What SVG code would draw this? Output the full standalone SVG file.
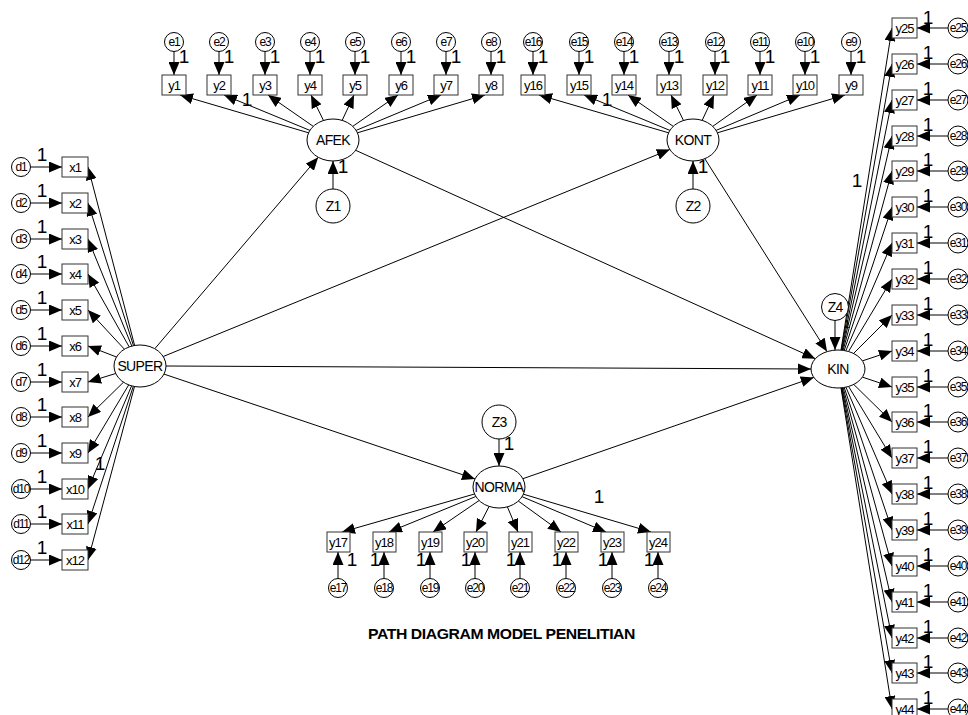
<svg xmlns="http://www.w3.org/2000/svg" width="968" height="715" viewBox="0 0 968 715">
<defs>
<marker id="ah" markerUnits="userSpaceOnUse" markerWidth="13" markerHeight="11" refX="13" refY="5.5" orient="auto">
<path d="M0,0 L13,5.5 L0,11 z" fill="#000"/>
</marker>
<style>
.edge{stroke:#000;stroke-width:1;fill:none;marker-end:url(#ah)}
.box{fill:#fff;stroke:#333;stroke-width:1}
.lat{fill:#fff;stroke:#000;stroke-width:1}
.err{fill:#fff;stroke:#000;stroke-width:1}
.t{font-family:"Liberation Sans",Arial,sans-serif;font-size:13px;text-anchor:middle;letter-spacing:-1px;fill:#000}
.te{font-family:"Liberation Sans",Arial,sans-serif;font-size:12px;text-anchor:middle;letter-spacing:-1.2px;fill:#000}
.tl{font-family:"Liberation Sans",Arial,sans-serif;font-size:14px;text-anchor:middle;letter-spacing:-0.6px;fill:#000}
.tz{font-family:"Liberation Sans",Arial,sans-serif;font-size:14px;text-anchor:middle;letter-spacing:-0.8px;fill:#000}
.one{font-family:"Liberation Sans",Arial,sans-serif;font-size:19px;text-anchor:middle;fill:#000}
.cap{font-family:"Liberation Sans",Arial,sans-serif;font-size:15px;font-weight:bold;letter-spacing:-0.4px;fill:#000}
</style>
</defs>
<rect width="968" height="715" fill="#fff"/>

<!-- connectors -->
<g id="connectors">
<!-- structural paths -->
<line class="edge" x1="154.8" y1="348.7" x2="318.2" y2="157.3"/>
<line class="edge" x1="163.2" y1="356.5" x2="669.8" y2="149.5"/>
<line class="edge" x1="166" y1="366" x2="811" y2="369"/>
<line class="edge" x1="164" y1="374.1" x2="475" y2="478.9"/>
<line class="edge" x1="355.7" y1="150.3" x2="815.3" y2="358.7"/>
<line class="edge" x1="704.8" y1="158.7" x2="827" y2="351.6"/>
<line class="edge" x1="522.9" y1="478.7" x2="813.8" y2="377.4"/>
<!-- disturbances -->
<line class="edge" x1="333" y1="189" x2="333" y2="161"/>
<line class="edge" x1="693" y1="189" x2="693" y2="161"/>
<line class="edge" x1="499" y1="439" x2="499" y2="466"/>
<line class="edge" x1="835" y1="320.5" x2="835" y2="350"/>
<!-- AFEK loadings -->
<line class="edge" x1="308.6" y1="132.8" x2="180" y2="95"/>
<line class="edge" x1="309.9" y1="130.4" x2="224" y2="95"/>
<line class="edge" x1="313.2" y1="126.3" x2="268" y2="95"/>
<line class="edge" x1="323.5" y1="120.5" x2="311" y2="95"/>
<line class="edge" x1="342.2" y1="120.3" x2="354" y2="95"/>
<line class="edge" x1="352.8" y1="126.3" x2="398" y2="95"/>
<line class="edge" x1="356.1" y1="130.4" x2="441" y2="95"/>
<line class="edge" x1="357.4" y1="132.8" x2="485" y2="95"/>
<!-- KONT loadings -->
<line class="edge" x1="668.6" y1="132.8" x2="539" y2="95"/>
<line class="edge" x1="669.9" y1="130.4" x2="584" y2="95"/>
<line class="edge" x1="673.2" y1="126.3" x2="628" y2="95"/>
<line class="edge" x1="683.5" y1="120.5" x2="671" y2="95"/>
<line class="edge" x1="702.2" y1="120.3" x2="714" y2="95"/>
<line class="edge" x1="712.8" y1="126.3" x2="757" y2="95"/>
<line class="edge" x1="716.1" y1="130.4" x2="800" y2="95"/>
<line class="edge" x1="717.4" y1="132.8" x2="845" y2="95"/>
<!-- SUPER loadings -->
<line class="edge" x1="134.6" y1="345.4" x2="88" y2="167"/>
<line class="edge" x1="133.5" y1="345.7" x2="88" y2="203"/>
<line class="edge" x1="131.8" y1="346.1" x2="88" y2="239"/>
<line class="edge" x1="129.2" y1="346.9" x2="88" y2="274"/>
<line class="edge" x1="124.4" y1="349.2" x2="88" y2="310"/>
<line class="edge" x1="116.5" y1="357" x2="88" y2="346"/>
<line class="edge" x1="115.7" y1="373.5" x2="88" y2="382"/>
<line class="edge" x1="123.5" y1="382.2" x2="88" y2="417"/>
<line class="edge" x1="128.7" y1="384.9" x2="88" y2="453"/>
<line class="edge" x1="131.6" y1="385.9" x2="88" y2="489"/>
<line class="edge" x1="133.3" y1="386.3" x2="88" y2="524"/>
<line class="edge" x1="134.5" y1="386.5" x2="88" y2="560"/>
<!-- NORMA loadings -->
<line class="edge" x1="474.5" y1="494" x2="342" y2="532"/>
<line class="edge" x1="475.8" y1="496.5" x2="389" y2="532"/>
<line class="edge" x1="479.1" y1="500.5" x2="433" y2="532"/>
<line class="edge" x1="489.1" y1="506.4" x2="476" y2="532"/>
<line class="edge" x1="507.4" y1="506.9" x2="518" y2="532"/>
<line class="edge" x1="518.3" y1="501" x2="561" y2="532"/>
<line class="edge" x1="522.1" y1="496.7" x2="606" y2="532"/>
<line class="edge" x1="523.4" y1="494.2" x2="651" y2="532"/>
<!-- KIN loadings -->
<line class="edge" x1="841" y1="350.1" x2="892" y2="28"/>
<line class="edge" x1="841.3" y1="350.1" x2="892" y2="64"/>
<line class="edge" x1="841.8" y1="350.2" x2="892" y2="100"/>
<line class="edge" x1="842.3" y1="350.2" x2="892" y2="136"/>
<line class="edge" x1="843.1" y1="350.3" x2="892" y2="171"/>
<line class="edge" x1="844.2" y1="350.5" x2="892" y2="207"/>
<line class="edge" x1="845.8" y1="350.8" x2="892" y2="243"/>
<line class="edge" x1="848.5" y1="351.5" x2="892" y2="279"/>
<line class="edge" x1="853.5" y1="353.5" x2="892" y2="315"/>
<line class="edge" x1="862.4" y1="360.9" x2="892" y2="351"/>
<line class="edge" x1="862.4" y1="377.1" x2="892" y2="387"/>
<line class="edge" x1="853.7" y1="384.4" x2="892" y2="422"/>
<line class="edge" x1="848.6" y1="386.5" x2="892" y2="458"/>
<line class="edge" x1="845.9" y1="387.2" x2="892" y2="494"/>
<line class="edge" x1="844.2" y1="387.5" x2="892" y2="530"/>
<line class="edge" x1="843.1" y1="387.7" x2="892" y2="566"/>
<line class="edge" x1="842.3" y1="387.8" x2="892" y2="602"/>
<line class="edge" x1="841.8" y1="387.8" x2="892" y2="638"/>
<line class="edge" x1="841.3" y1="387.9" x2="892" y2="673"/>
<line class="edge" x1="841" y1="387.9" x2="892" y2="709"/>
<!-- error terms, top rows -->
<line class="edge" x1="174" y1="51.5" x2="174" y2="75"/>
<line class="edge" x1="219" y1="51.5" x2="219" y2="75"/>
<line class="edge" x1="265" y1="51.5" x2="265" y2="75"/>
<line class="edge" x1="310" y1="51.5" x2="310" y2="75"/>
<line class="edge" x1="355" y1="51.5" x2="355" y2="75"/>
<line class="edge" x1="401" y1="51.5" x2="401" y2="75"/>
<line class="edge" x1="446" y1="51.5" x2="446" y2="75"/>
<line class="edge" x1="491" y1="51.5" x2="491" y2="75"/>
<line class="edge" x1="533" y1="51.5" x2="533" y2="75"/>
<line class="edge" x1="579" y1="51.5" x2="579" y2="75"/>
<line class="edge" x1="624" y1="51.5" x2="624" y2="75"/>
<line class="edge" x1="669" y1="51.5" x2="669" y2="75"/>
<line class="edge" x1="715" y1="51.5" x2="715" y2="75"/>
<line class="edge" x1="760" y1="51.5" x2="760" y2="75"/>
<line class="edge" x1="805" y1="51.5" x2="805" y2="75"/>
<line class="edge" x1="851" y1="51.5" x2="851" y2="75"/>
<!-- error terms, left column -->
<line class="edge" x1="30.5" y1="167" x2="62" y2="167"/>
<line class="edge" x1="30.5" y1="203" x2="62" y2="203"/>
<line class="edge" x1="30.5" y1="239" x2="62" y2="239"/>
<line class="edge" x1="30.5" y1="274" x2="62" y2="274"/>
<line class="edge" x1="30.5" y1="310" x2="62" y2="310"/>
<line class="edge" x1="30.5" y1="346" x2="62" y2="346"/>
<line class="edge" x1="30.5" y1="382" x2="62" y2="382"/>
<line class="edge" x1="30.5" y1="417" x2="62" y2="417"/>
<line class="edge" x1="30.5" y1="453" x2="62" y2="453"/>
<line class="edge" x1="30.5" y1="489" x2="62" y2="489"/>
<line class="edge" x1="30.5" y1="524" x2="62" y2="524"/>
<line class="edge" x1="30.5" y1="560" x2="62" y2="560"/>
<!-- error terms, bottom row -->
<line class="edge" x1="338" y1="578.5" x2="338" y2="552"/>
<line class="edge" x1="384" y1="578.5" x2="384" y2="552"/>
<line class="edge" x1="430" y1="578.5" x2="430" y2="552"/>
<line class="edge" x1="475" y1="578.5" x2="475" y2="552"/>
<line class="edge" x1="520" y1="578.5" x2="520" y2="552"/>
<line class="edge" x1="566" y1="578.5" x2="566" y2="552"/>
<line class="edge" x1="612" y1="578.5" x2="612" y2="552"/>
<line class="edge" x1="658" y1="578.5" x2="658" y2="552"/>
<!-- error terms, right column -->
<line class="edge" x1="948" y1="28" x2="917" y2="28"/>
<line class="edge" x1="948" y1="64" x2="917" y2="64"/>
<line class="edge" x1="948" y1="100" x2="917" y2="100"/>
<line class="edge" x1="948" y1="136" x2="917" y2="136"/>
<line class="edge" x1="948" y1="171" x2="917" y2="171"/>
<line class="edge" x1="948" y1="207" x2="917" y2="207"/>
<line class="edge" x1="948" y1="243" x2="917" y2="243"/>
<line class="edge" x1="948" y1="279" x2="917" y2="279"/>
<line class="edge" x1="948" y1="315" x2="917" y2="315"/>
<line class="edge" x1="948" y1="351" x2="917" y2="351"/>
<line class="edge" x1="948" y1="387" x2="917" y2="387"/>
<line class="edge" x1="948" y1="422" x2="917" y2="422"/>
<line class="edge" x1="948" y1="458" x2="917" y2="458"/>
<line class="edge" x1="948" y1="494" x2="917" y2="494"/>
<line class="edge" x1="948" y1="530" x2="917" y2="530"/>
<line class="edge" x1="948" y1="566" x2="917" y2="566"/>
<line class="edge" x1="948" y1="602" x2="917" y2="602"/>
<line class="edge" x1="948" y1="638" x2="917" y2="638"/>
<line class="edge" x1="948" y1="673" x2="917" y2="673"/>
<line class="edge" x1="948" y1="709" x2="917" y2="709"/>
</g>

<!-- regression weight labels -->
<g id="weights">
<text class="one" x="184" y="63">1</text><text class="one" x="229" y="63">1</text><text class="one" x="275" y="63">1</text><text class="one" x="320" y="63">1</text>
<text class="one" x="365" y="63">1</text><text class="one" x="411" y="63">1</text><text class="one" x="456" y="63">1</text><text class="one" x="501" y="63">1</text>
<text class="one" x="543" y="63">1</text><text class="one" x="589" y="63">1</text><text class="one" x="634" y="63">1</text><text class="one" x="679" y="63">1</text>
<text class="one" x="725" y="63">1</text><text class="one" x="770" y="63">1</text><text class="one" x="815" y="63">1</text><text class="one" x="861" y="63">1</text>
<text class="one" x="247" y="106">1</text><text class="one" x="607" y="106">1</text>
<text class="one" x="343" y="173">1</text><text class="one" x="703" y="173">1</text>
<text class="one" x="857" y="187">1</text>
<text class="one" x="847" y="328" style="font-size:11px">1</text>
<text class="one" x="509" y="450">1</text><text class="one" x="599" y="503">1</text>
<text class="one" x="100" y="470">1</text>
<text class="one" x="42" y="161">1</text><text class="one" x="42" y="197">1</text><text class="one" x="42" y="233">1</text><text class="one" x="42" y="268">1</text>
<text class="one" x="42" y="304">1</text><text class="one" x="42" y="340">1</text><text class="one" x="42" y="376">1</text><text class="one" x="42" y="411">1</text>
<text class="one" x="42" y="447">1</text><text class="one" x="42" y="483">1</text><text class="one" x="42" y="518">1</text><text class="one" x="42" y="554">1</text>
<text class="one" x="352" y="566">1</text><text class="one" x="375" y="566">1</text><text class="one" x="421" y="566">1</text><text class="one" x="466" y="566">1</text>
<text class="one" x="511" y="566">1</text><text class="one" x="557" y="566">1</text><text class="one" x="603" y="566">1</text><text class="one" x="649" y="566">1</text>
<text class="one" x="928" y="24">1</text><text class="one" x="928" y="59">1</text><text class="one" x="928" y="95">1</text><text class="one" x="928" y="131">1</text>
<text class="one" x="928" y="166">1</text><text class="one" x="928" y="202">1</text><text class="one" x="928" y="238">1</text><text class="one" x="928" y="274">1</text>
<text class="one" x="928" y="310">1</text><text class="one" x="928" y="346">1</text><text class="one" x="928" y="382">1</text><text class="one" x="928" y="417">1</text>
<text class="one" x="928" y="453">1</text><text class="one" x="928" y="489">1</text><text class="one" x="928" y="525">1</text><text class="one" x="928" y="561">1</text>
<text class="one" x="928" y="597">1</text><text class="one" x="928" y="633">1</text><text class="one" x="928" y="668">1</text><text class="one" x="928" y="704">1</text>
</g>

<!-- latent variables -->
<g id="AFEK"><ellipse class="lat" cx="333" cy="140" rx="26" ry="21"/><text class="tl" x="333" y="145">AFEK</text></g>
<g id="KONT"><ellipse class="lat" cx="693" cy="140" rx="26" ry="21"/><text class="tl" x="693" y="145">KONT</text></g>
<g id="SUPER"><ellipse class="lat" cx="140" cy="366" rx="26" ry="21"/><text class="tl" x="140" y="371">SUPER</text></g>
<g id="KIN"><ellipse class="lat" cx="838" cy="369" rx="27" ry="19"/><text class="tl" x="838" y="374">KIN</text></g>
<g id="NORMA"><ellipse class="lat" cx="499" cy="487" rx="26" ry="21"/><text class="tl" x="499" y="492">NORMA</text></g>
<g id="Z1"><circle class="err" cx="333" cy="206" r="17"/><text class="tz" x="333" y="211">Z1</text></g>
<g id="Z2"><circle class="err" cx="693" cy="206" r="17"/><text class="tz" x="693" y="211">Z2</text></g>
<g id="Z3"><circle class="err" cx="499" cy="422" r="17"/><text class="tz" x="499" y="427">Z3</text></g>
<g id="Z4"><circle class="err" cx="835" cy="307" r="13.5"/><text class="tz" x="835" y="312">Z4</text></g>

<!-- AFEK indicators -->
<g id="y1"><rect class="box" x="162" y="75" width="24" height="20"/><text class="t" x="174" y="90">y1</text></g>
<g id="y2"><rect class="box" x="207" y="75" width="24" height="20"/><text class="t" x="219" y="90">y2</text></g>
<g id="y3"><rect class="box" x="253" y="75" width="24" height="20"/><text class="t" x="265" y="90">y3</text></g>
<g id="y4"><rect class="box" x="298" y="75" width="24" height="20"/><text class="t" x="310" y="90">y4</text></g>
<g id="y5"><rect class="box" x="343" y="75" width="24" height="20"/><text class="t" x="355" y="90">y5</text></g>
<g id="y6"><rect class="box" x="389" y="75" width="24" height="20"/><text class="t" x="401" y="90">y6</text></g>
<g id="y7"><rect class="box" x="434" y="75" width="24" height="20"/><text class="t" x="446" y="90">y7</text></g>
<g id="y8"><rect class="box" x="479" y="75" width="24" height="20"/><text class="t" x="491" y="90">y8</text></g>
<g id="e1"><circle class="err" cx="174" cy="42" r="9.5"/><text class="te" x="174" y="46">e1</text></g>
<g id="e2"><circle class="err" cx="219" cy="42" r="9.5"/><text class="te" x="219" y="46">e2</text></g>
<g id="e3"><circle class="err" cx="265" cy="42" r="9.5"/><text class="te" x="265" y="46">e3</text></g>
<g id="e4"><circle class="err" cx="310" cy="42" r="9.5"/><text class="te" x="310" y="46">e4</text></g>
<g id="e5"><circle class="err" cx="355" cy="42" r="9.5"/><text class="te" x="355" y="46">e5</text></g>
<g id="e6"><circle class="err" cx="401" cy="42" r="9.5"/><text class="te" x="401" y="46">e6</text></g>
<g id="e7"><circle class="err" cx="446" cy="42" r="9.5"/><text class="te" x="446" y="46">e7</text></g>
<g id="e8"><circle class="err" cx="491" cy="42" r="9.5"/><text class="te" x="491" y="46">e8</text></g>

<!-- KONT indicators -->
<g id="y16"><rect class="box" x="521" y="75" width="24" height="20"/><text class="t" x="533" y="90">y16</text></g>
<g id="y15"><rect class="box" x="567" y="75" width="24" height="20"/><text class="t" x="579" y="90">y15</text></g>
<g id="y14"><rect class="box" x="612" y="75" width="24" height="20"/><text class="t" x="624" y="90">y14</text></g>
<g id="y13"><rect class="box" x="657" y="75" width="24" height="20"/><text class="t" x="669" y="90">y13</text></g>
<g id="y12"><rect class="box" x="703" y="75" width="24" height="20"/><text class="t" x="715" y="90">y12</text></g>
<g id="y11"><rect class="box" x="748" y="75" width="24" height="20"/><text class="t" x="760" y="90">y11</text></g>
<g id="y10"><rect class="box" x="793" y="75" width="24" height="20"/><text class="t" x="805" y="90">y10</text></g>
<g id="y9"><rect class="box" x="839" y="75" width="24" height="20"/><text class="t" x="851" y="90">y9</text></g>
<g id="e16"><circle class="err" cx="533" cy="42" r="9.5"/><text class="te" x="533" y="46">e16</text></g>
<g id="e15"><circle class="err" cx="579" cy="42" r="9.5"/><text class="te" x="579" y="46">e15</text></g>
<g id="e14"><circle class="err" cx="624" cy="42" r="9.5"/><text class="te" x="624" y="46">e14</text></g>
<g id="e13"><circle class="err" cx="669" cy="42" r="9.5"/><text class="te" x="669" y="46">e13</text></g>
<g id="e12"><circle class="err" cx="715" cy="42" r="9.5"/><text class="te" x="715" y="46">e12</text></g>
<g id="e11"><circle class="err" cx="760" cy="42" r="9.5"/><text class="te" x="760" y="46">e11</text></g>
<g id="e10"><circle class="err" cx="805" cy="42" r="9.5"/><text class="te" x="805" y="46">e10</text></g>
<g id="e9"><circle class="err" cx="851" cy="42" r="9.5"/><text class="te" x="851" y="46">e9</text></g>

<!-- SUPER indicators -->
<g id="x1"><rect class="box" x="62" y="157" width="26" height="20"/><text class="t" x="75" y="172">x1</text></g>
<g id="x2"><rect class="box" x="62" y="193" width="26" height="20"/><text class="t" x="75" y="208">x2</text></g>
<g id="x3"><rect class="box" x="62" y="229" width="26" height="20"/><text class="t" x="75" y="244">x3</text></g>
<g id="x4"><rect class="box" x="62" y="264" width="26" height="20"/><text class="t" x="75" y="279">x4</text></g>
<g id="x5"><rect class="box" x="62" y="300" width="26" height="20"/><text class="t" x="75" y="315">x5</text></g>
<g id="x6"><rect class="box" x="62" y="336" width="26" height="20"/><text class="t" x="75" y="351">x6</text></g>
<g id="x7"><rect class="box" x="62" y="372" width="26" height="20"/><text class="t" x="75" y="387">x7</text></g>
<g id="x8"><rect class="box" x="62" y="407" width="26" height="20"/><text class="t" x="75" y="422">x8</text></g>
<g id="x9"><rect class="box" x="62" y="443" width="26" height="20"/><text class="t" x="75" y="458">x9</text></g>
<g id="x10"><rect class="box" x="62" y="479" width="26" height="20"/><text class="t" x="75" y="494">x10</text></g>
<g id="x11"><rect class="box" x="62" y="514" width="26" height="20"/><text class="t" x="75" y="529">x11</text></g>
<g id="x12"><rect class="box" x="62" y="550" width="26" height="20"/><text class="t" x="75" y="565">x12</text></g>
<g id="d1"><circle class="err" cx="21" cy="167" r="9.5"/><text class="te" x="21" y="171">d1</text></g>
<g id="d2"><circle class="err" cx="21" cy="203" r="9.5"/><text class="te" x="21" y="207">d2</text></g>
<g id="d3"><circle class="err" cx="21" cy="239" r="9.5"/><text class="te" x="21" y="243">d3</text></g>
<g id="d4"><circle class="err" cx="21" cy="274" r="9.5"/><text class="te" x="21" y="278">d4</text></g>
<g id="d5"><circle class="err" cx="21" cy="310" r="9.5"/><text class="te" x="21" y="314">d5</text></g>
<g id="d6"><circle class="err" cx="21" cy="346" r="9.5"/><text class="te" x="21" y="350">d6</text></g>
<g id="d7"><circle class="err" cx="21" cy="382" r="9.5"/><text class="te" x="21" y="386">d7</text></g>
<g id="d8"><circle class="err" cx="21" cy="417" r="9.5"/><text class="te" x="21" y="421">d8</text></g>
<g id="d9"><circle class="err" cx="21" cy="453" r="9.5"/><text class="te" x="21" y="457">d9</text></g>
<g id="d10"><circle class="err" cx="21" cy="489" r="9.5"/><text class="te" x="21" y="493">d10</text></g>
<g id="d11"><circle class="err" cx="21" cy="524" r="9.5"/><text class="te" x="21" y="528">d11</text></g>
<g id="d12"><circle class="err" cx="21" cy="560" r="9.5"/><text class="te" x="21" y="564">d12</text></g>

<!-- NORMA indicators -->
<g id="y17"><rect class="box" x="327" y="532" width="23" height="20"/><text class="t" x="338" y="547">y17</text></g>
<g id="y18"><rect class="box" x="373" y="532" width="23" height="20"/><text class="t" x="384" y="547">y18</text></g>
<g id="y19"><rect class="box" x="419" y="532" width="23" height="20"/><text class="t" x="430" y="547">y19</text></g>
<g id="y20"><rect class="box" x="464" y="532" width="23" height="20"/><text class="t" x="475" y="547">y20</text></g>
<g id="y21"><rect class="box" x="509" y="532" width="23" height="20"/><text class="t" x="520" y="547">y21</text></g>
<g id="y22"><rect class="box" x="555" y="532" width="23" height="20"/><text class="t" x="566" y="547">y22</text></g>
<g id="y23"><rect class="box" x="601" y="532" width="23" height="20"/><text class="t" x="612" y="547">y23</text></g>
<g id="y24"><rect class="box" x="647" y="532" width="23" height="20"/><text class="t" x="658" y="547">y24</text></g>
<g id="e17"><circle class="err" cx="338" cy="588" r="9.5"/><text class="te" x="338" y="592">e17</text></g>
<g id="e18"><circle class="err" cx="384" cy="588" r="9.5"/><text class="te" x="384" y="592">e18</text></g>
<g id="e19"><circle class="err" cx="430" cy="588" r="9.5"/><text class="te" x="430" y="592">e19</text></g>
<g id="e20"><circle class="err" cx="475" cy="588" r="9.5"/><text class="te" x="475" y="592">e20</text></g>
<g id="e21"><circle class="err" cx="520" cy="588" r="9.5"/><text class="te" x="520" y="592">e21</text></g>
<g id="e22"><circle class="err" cx="566" cy="588" r="9.5"/><text class="te" x="566" y="592">e22</text></g>
<g id="e23"><circle class="err" cx="612" cy="588" r="9.5"/><text class="te" x="612" y="592">e23</text></g>
<g id="e24"><circle class="err" cx="658" cy="588" r="9.5"/><text class="te" x="658" y="592">e24</text></g>

<!-- KIN indicators -->
<g id="y25"><rect class="box" x="892" y="18" width="25" height="20"/><text class="t" x="904.5" y="33">y25</text></g>
<g id="y26"><rect class="box" x="892" y="54" width="25" height="20"/><text class="t" x="904.5" y="69">y26</text></g>
<g id="y27"><rect class="box" x="892" y="90" width="25" height="20"/><text class="t" x="904.5" y="105">y27</text></g>
<g id="y28"><rect class="box" x="892" y="126" width="25" height="20"/><text class="t" x="904.5" y="141">y28</text></g>
<g id="y29"><rect class="box" x="892" y="161" width="25" height="20"/><text class="t" x="904.5" y="176">y29</text></g>
<g id="y30"><rect class="box" x="892" y="197" width="25" height="20"/><text class="t" x="904.5" y="212">y30</text></g>
<g id="y31"><rect class="box" x="892" y="233" width="25" height="20"/><text class="t" x="904.5" y="248">y31</text></g>
<g id="y32"><rect class="box" x="892" y="269" width="25" height="20"/><text class="t" x="904.5" y="284">y32</text></g>
<g id="y33"><rect class="box" x="892" y="305" width="25" height="20"/><text class="t" x="904.5" y="320">y33</text></g>
<g id="y34"><rect class="box" x="892" y="341" width="25" height="20"/><text class="t" x="904.5" y="356">y34</text></g>
<g id="y35"><rect class="box" x="892" y="377" width="25" height="20"/><text class="t" x="904.5" y="392">y35</text></g>
<g id="y36"><rect class="box" x="892" y="412" width="25" height="20"/><text class="t" x="904.5" y="427">y36</text></g>
<g id="y37"><rect class="box" x="892" y="448" width="25" height="20"/><text class="t" x="904.5" y="463">y37</text></g>
<g id="y38"><rect class="box" x="892" y="484" width="25" height="20"/><text class="t" x="904.5" y="499">y38</text></g>
<g id="y39"><rect class="box" x="892" y="520" width="25" height="20"/><text class="t" x="904.5" y="535">y39</text></g>
<g id="y40"><rect class="box" x="892" y="556" width="25" height="20"/><text class="t" x="904.5" y="571">y40</text></g>
<g id="y41"><rect class="box" x="892" y="592" width="25" height="20"/><text class="t" x="904.5" y="607">y41</text></g>
<g id="y42"><rect class="box" x="892" y="628" width="25" height="20"/><text class="t" x="904.5" y="643">y42</text></g>
<g id="y43"><rect class="box" x="892" y="663" width="25" height="20"/><text class="t" x="904.5" y="678">y43</text></g>
<g id="y44"><rect class="box" x="892" y="699" width="25" height="20"/><text class="t" x="904.5" y="714">y44</text></g>
<g id="e25"><circle class="err" cx="958" cy="28" r="10"/><text class="te" x="958" y="32">e25</text></g>
<g id="e26"><circle class="err" cx="958" cy="64" r="10"/><text class="te" x="958" y="68">e26</text></g>
<g id="e27"><circle class="err" cx="958" cy="100" r="10"/><text class="te" x="958" y="104">e27</text></g>
<g id="e28"><circle class="err" cx="958" cy="136" r="10"/><text class="te" x="958" y="140">e28</text></g>
<g id="e29"><circle class="err" cx="958" cy="171" r="10"/><text class="te" x="958" y="175">e29</text></g>
<g id="e30"><circle class="err" cx="958" cy="207" r="10"/><text class="te" x="958" y="211">e30</text></g>
<g id="e31"><circle class="err" cx="958" cy="243" r="10"/><text class="te" x="958" y="247">e31</text></g>
<g id="e32"><circle class="err" cx="958" cy="279" r="10"/><text class="te" x="958" y="283">e32</text></g>
<g id="e33"><circle class="err" cx="958" cy="315" r="10"/><text class="te" x="958" y="319">e33</text></g>
<g id="e34"><circle class="err" cx="958" cy="351" r="10"/><text class="te" x="958" y="355">e34</text></g>
<g id="e35"><circle class="err" cx="958" cy="387" r="10"/><text class="te" x="958" y="391">e35</text></g>
<g id="e36"><circle class="err" cx="958" cy="422" r="10"/><text class="te" x="958" y="426">e36</text></g>
<g id="e37"><circle class="err" cx="958" cy="458" r="10"/><text class="te" x="958" y="462">e37</text></g>
<g id="e38"><circle class="err" cx="958" cy="494" r="10"/><text class="te" x="958" y="498">e38</text></g>
<g id="e39"><circle class="err" cx="958" cy="530" r="10"/><text class="te" x="958" y="534">e39</text></g>
<g id="e40"><circle class="err" cx="958" cy="566" r="10"/><text class="te" x="958" y="570">e40</text></g>
<g id="e41"><circle class="err" cx="958" cy="602" r="10"/><text class="te" x="958" y="606">e41</text></g>
<g id="e42"><circle class="err" cx="958" cy="638" r="10"/><text class="te" x="958" y="642">e42</text></g>
<g id="e43"><circle class="err" cx="958" cy="673" r="10"/><text class="te" x="958" y="677">e43</text></g>
<g id="e44"><circle class="err" cx="958" cy="709" r="10"/><text class="te" x="958" y="713">e44</text></g>

<!-- caption -->
<text class="cap" x="368" y="639" textLength="267" lengthAdjust="spacingAndGlyphs">PATH DIAGRAM MODEL PENELITIAN</text>
</svg>
